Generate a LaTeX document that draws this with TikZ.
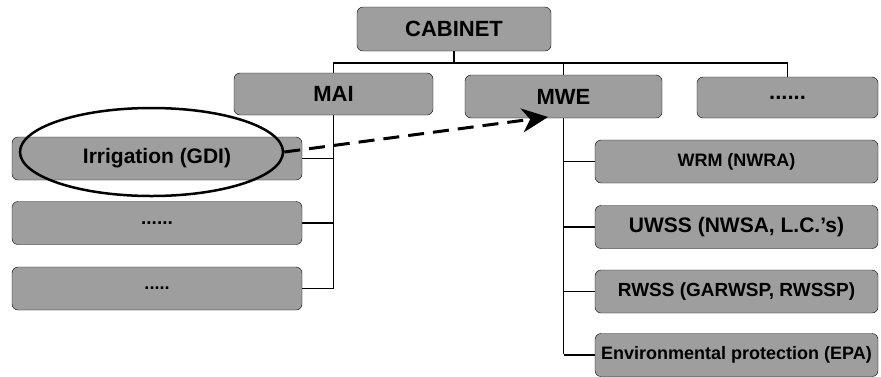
\documentclass[tikz,border=0pt]{standalone}
\usepackage{fontspec}
\setmainfont{Liberation Sans}
\usetikzlibrary{arrows.meta,shapes.geometric}
\definecolor{boxgray}{gray}{0.62}
\newcommand{\fsz}[1]{\fontsize{#1}{#1}\selectfont\bfseries}

\begin{document}
\begin{tikzpicture}[x=1pt, y=-1pt, >=Stealth,
    box/.style={draw, thin, rounded corners=6pt, fill=boxgray, inner sep=0pt, minimum height=43pt, font=\fsz{19}},
    topbox/.style={box, font=\fsz{22}},
    leftbox/.style={box, minimum width=290pt},
    rightbox/.style={box, minimum width=283pt},
    link/.style={line width=1.6pt}]
    \useasboundingbox (0,0) rectangle (881,376);

    % connectors first, boxes drawn on top
    \coordinate (bus) at (454,63);
    \coordinate (maiend) at (333,288);
    \coordinate (mweend) at (562,354);

    \node[topbox, minimum width=194pt, minimum height=44pt] (cab) at (454,29) {CABINET};
    \node[topbox, minimum width=199pt, minimum height=42pt] (mai) at (333.5,94) {MAI};
    \node[topbox, minimum width=197pt] (mwe) at (563.5,96.5) {MWE};
    \node[topbox, minimum width=181pt, minimum height=41pt] (oth) at (787.5,97.5) {......};

    \node[leftbox, font=\fsz{21}] (irr) at (157,158.5) {Irrigation (GDI)};
    \node[leftbox] (l2) at (157,223) {......};
    \node[leftbox, font=\fsz{18}] (l3) at (157,288.5) {.....};

    \node[rightbox, font=\fsz{18}] (wrm) at (736.5,161.5) {WRM (NWRA)};
    \node[rightbox, font=\fsz{21}] (uwss) at (736.5,227) {UWSS (NWSA, L.C.'s)};
    \node[rightbox] (rwss) at (736.5,291.5) {RWSS (GARWSP, RWSSP)};
    \node[rightbox, font=\fsz{18}] (epa) at (736.5,355) {Environmental protection (EPA)};

    \draw[link] (cab.south) -- (cab.south |- bus);
    \draw[link] (mai.north) -- (mai.north |- bus) -- (oth.north |- bus) -- (oth.north);
    \draw[link] (mwe.north) -- (mwe.north |- bus);

    \draw[link] (mai.south) -- (mai.south |- maiend);
    \draw[link] (irr.east) -- (irr.east -| mai.south);
    \draw[link] (l2.east) -- (l2.east -| mai.south);
    \draw[link] (l3.east) -- (l3.east -| mai.south);

    \draw[link] (mwe.south) -- (mwe.south |- mweend);
    \draw[link] (wrm.west) -- (wrm.west -| mwe.south);
    \draw[link] (uwss.west) -- (uwss.west -| mwe.south);
    \draw[link] (rwss.west) -- (rwss.west -| mwe.south);
    \draw[link] (epa.west) -- (epa.west -| mwe.south);

    % highlight and move of irrigation
    \node[draw, ellipse, line width=2.5pt, minimum width=263pt, minimum height=88pt] (irrsel) at (151.5,152) {};
    \coordinate (tip) at (548,117);
    \draw[->, line width=3pt, dash pattern=on 16pt off 9pt, >={Stealth[length=26pt, width=24pt, inset=8pt]}]
        (irrsel.east) -- (tip);
\end{tikzpicture}
\end{document}
